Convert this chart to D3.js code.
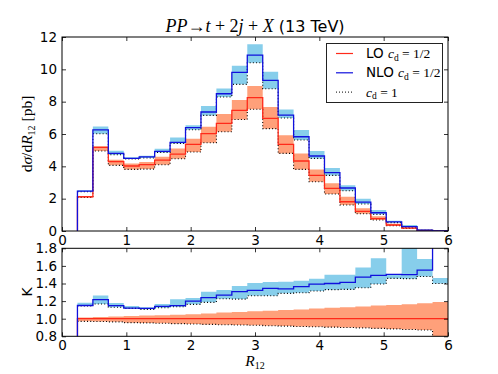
<!DOCTYPE html>
<html>
<head>
<meta charset="utf-8">
<script src="https://cdn.jsdelivr.net/npm/d3@7"></script>
<style>
  body { margin: 0; background: #fff; }
  svg { display: block; }
  .tick text { font-family: "DejaVu Sans", sans-serif; font-size: 13.5px; fill: #000; }
  .tick line { stroke: #000; stroke-width: 0.8; }
  .math { font-family: "Liberation Serif", "DejaVu Serif", serif; }
</style>
</head>
<body>
<svg id="chart" width="498" height="374"></svg>
<script>
// bin edges of R12 (first bin 0-0.24 is empty)
var edges = [0.24, 0.48, 0.72, 0.96, 1.2, 1.44, 1.68, 1.92, 2.16, 2.4, 2.64, 2.88, 3.12,
             3.36, 3.6, 3.84, 4.08, 4.32, 4.56, 4.8, 5.04, 5.28, 5.52, 5.76, 6.0];

// dsigma/dR12 [pb], cd = 1/2 (line), upper band edge, cd = 1 (dotted)
var nlo    = [2.47, 6.25, 4.8, 4.49, 4.58, 4.93, 5.48, 6.39, 7.36, 8.49, 9.81, 10.88,
              9.32, 7.17, 5.83, 4.64, 3.61, 2.66, 1.79, 1.13, 0.56, 0.27, 0.06, 0.01];
var nloUp  = [2.52, 6.47, 4.97, 4.56, 4.66, 5.08, 5.79, 6.54, 7.73, 8.82, 10.22, 11.55,
              9.85, 7.52, 6.25, 4.95, 3.9, 2.83, 2.0, 1.3, 0.64, 0.37, 0.1, 0.015];
var nloDot = [2.43, 6.02, 4.72, 4.45, 4.52, 4.86, 5.42, 6.26, 7.15, 8.29, 9.07, 10.41,
              8.8, 6.99, 5.63, 4.49, 3.44, 2.49, 1.67, 1.03, 0.52, 0.24, 0.05, 0.01];
var lo     = [2.12, 5.17, 4.29, 4.02, 4.1, 4.39, 4.76, 5.36, 6.02, 6.66, 7.46, 8.25,
              6.97, 5.36, 4.33, 3.44, 2.64, 1.81, 1.22, 0.76, 0.37, 0.18, 0.04, 0.005];
var loUp   = [2.16, 5.25, 4.4, 4.18, 4.27, 4.6, 5.1, 5.71, 6.45, 7.24, 8.1, 8.97,
              7.67, 5.92, 4.8, 3.81, 2.95, 2.12, 1.4, 0.92, 0.45, 0.22, 0.05, 0.007];
var loDot  = [2.07, 4.95, 4.06, 3.81, 3.83, 4.1, 4.47, 4.89, 5.46, 6.14, 6.9, 7.53,
              6.33, 4.8, 3.81, 3.05, 2.29, 1.61, 1.07, 0.68, 0.33, 0.16, 0.035, 0.004];

// K factor panel
var kNlo    = [1.15, 1.216, 1.148, 1.12, 1.117, 1.14, 1.148, 1.2, 1.239, 1.269, 1.307, 1.322,
               1.345, 1.34, 1.364, 1.394, 1.4, 1.413, 1.473, 1.492, 1.504, 1.5, 1.553, 2.5];
var kNloUp  = [1.18, 1.265, 1.178, 1.144, 1.13, 1.167, 1.22, 1.235, 1.307, 1.326, 1.371, 1.405,
               1.417, 1.42, 1.43, 1.455, 1.5, 1.5, 1.583, 1.686, 1.504, 2.0, 1.678, 1.463];
var kNloDot = [1.144, 1.167, 1.13, 1.117, 1.106, 1.125, 1.136, 1.163, 1.186, 1.227, 1.223, 1.26,
               1.26, 1.288, 1.295, 1.314, 1.33, 1.333, 1.352, 1.394, 1.458, 1.455, 1.48, 1.40];
var kLo     = [1, 1, 1, 1, 1, 1, 1, 1, 1, 1, 1, 1, 1, 1, 1, 1, 1, 1, 1, 1, 1, 1, 1, 1];
var kLoUp   = [1.015, 1.02, 1.025, 1.03, 1.035, 1.04, 1.045, 1.05, 1.06, 1.07, 1.075, 1.085,
               1.09, 1.1, 1.105, 1.115, 1.125, 1.13, 1.14, 1.15, 1.155, 1.165, 1.175, 1.19];
var kLoDot  = [0.97, 0.968, 0.964, 0.955, 0.952, 0.948, 0.944, 0.94, 0.935, 0.932, 0.928, 0.925,
               0.92, 0.916, 0.912, 0.908, 0.904, 0.9, 0.896, 0.89, 0.884, 0.878, 0.872, 0.78];

var xTicks = [0, 1, 2, 3, 4, 5, 6];
var yTicksTop = [0, 2, 4, 6, 8, 10, 12];
var yTicksBot = [0.8, 1.0, 1.2, 1.4, 1.6, 1.8];

var colRed = "#ff2a1a", colBlue = "#1010dd";
var colRedBand = "#ffa07a", colBlueBand = "#87ceeb";

var svg = d3.select("#chart");
var left = 62, right = 448;

var x = d3.scaleLinear().domain([0, 6]).range([left, right]);

// steps: a vertical rise at the first edge, then flat bins up to the last edge
function steps(vals, start) {
	var pts = [];
	if (start !== undefined) pts.push({x: edges[0], y: start});
	vals.forEach(function(v, i) { pts.push({x: edges[i], y: v}); });
	pts.push({x: edges[edges.length - 1], y: vals[vals.length - 1]});
	return pts;
}

function bandPts(lower, upper) {
	var pts = lower.map(function(v, i) { return {x: edges[i], y0: v, y1: upper[i]}; });
	var n = lower.length - 1;
	pts.push({x: edges[n + 1], y0: lower[n], y1: upper[n]});
	return pts;
}

function drawPanel(opt) {
	var y = d3.scaleLinear().domain(opt.domain).range([opt.bottom, opt.top]);
	var g = svg.append("g");

	// white background hides anything that spills in from above
	g.append("rect").attr("x", left).attr("y", opt.top)
		.attr("width", right - left).attr("height", opt.bottom - opt.top).attr("fill", "#fff");

	svg.append("clipPath").attr("id", opt.id)
		.append("rect").attr("x", left).attr("y", opt.top)
		.attr("width", right - left).attr("height", opt.bottom - opt.top);
	var plot = g.append("g").attr("clip-path", "url(#" + opt.id + ")");

	var area = d3.area().curve(d3.curveStepAfter)
		.x(function(d) { return x(d.x); })
		.y0(function(d) { return y(d.y0); })
		.y1(function(d) { return y(d.y1); });
	var line = d3.line().curve(d3.curveStepAfter)
		.x(function(d) { return x(d.x); })
		.y(function(d) { return y(d.y); });

	// bands
	plot.append("path").datum(bandPts(opt.nloDot, opt.nloUp)).attr("d", area).attr("fill", colBlueBand);
	plot.append("path").datum(bandPts(opt.loDot, opt.loUp)).attr("d", area).attr("fill", colRedBand);

	// cd = 1 dotted
	[opt.loDot, opt.nloDot].forEach(function(vals) {
		plot.append("path").datum(steps(vals)).attr("d", line)
			.attr("fill", "none").attr("stroke", "#000").attr("stroke-width", 1.1)
			.attr("stroke-dasharray", "1,2.2");
	});

	// cd = 1/2 lines
	plot.append("path").datum(steps(opt.lo, opt.domain[0] - 1)).attr("d", line)
		.attr("fill", "none").attr("stroke", colRed).attr("stroke-width", 1.3);
	plot.append("path").datum(steps(opt.nlo, opt.domain[0] - 1)).attr("d", line)
		.attr("fill", "none").attr("stroke", colBlue).attr("stroke-width", 1.3);

	// ticks on all four sides, pointing inward
	var h = opt.bottom - opt.top;
	g.append("g").attr("transform", "translate(0," + opt.bottom + ")")
		.call(d3.axisBottom(x).tickValues(xTicks).tickFormat(d3.format("d"))
			.tickSizeInner(-4).tickSizeOuter(0).tickPadding(4));
	g.append("g").attr("transform", "translate(0," + opt.top + ")")
		.call(d3.axisTop(x).tickValues(xTicks).tickFormat("").tickSizeInner(-4).tickSizeOuter(0));
	g.append("g").attr("transform", "translate(" + left + ",0)")
		.call(d3.axisLeft(y).tickValues(opt.yTicks).tickFormat(opt.fmt)
			.tickSizeInner(-4).tickSizeOuter(0).tickPadding(5));
	g.append("g").attr("transform", "translate(" + right + ",0)")
		.call(d3.axisRight(y).tickValues(opt.yTicks).tickFormat("").tickSizeInner(-4).tickSizeOuter(0));
	g.selectAll(".domain").remove();

	g.append("rect").attr("x", left).attr("y", opt.top)
		.attr("width", right - left).attr("height", h)
		.attr("fill", "none").attr("stroke", "#000").attr("stroke-width", 1);
}

// upper panel: differential cross section
drawPanel({id: "clipTop", top: 37, bottom: 231, domain: [0, 12], yTicks: yTicksTop,
	fmt: d3.format("d"), nlo: nlo, nloUp: nloUp, nloDot: nloDot, lo: lo, loUp: loUp, loDot: loDot});

// lower panel: K factor
drawPanel({id: "clipBot", top: 248.3, bottom: 336.3, domain: [0.8, 1.8], yTicks: yTicksBot,
	fmt: d3.format(".1f"), nlo: kNlo, nloUp: kNloUp, nloDot: kNloDot, lo: kLo, loUp: kLoUp, loDot: kLoDot});

// title
var title = svg.append("text").attr("x", 255).attr("y", 32).attr("text-anchor", "middle")
	.attr("font-size", 18);
title.append("tspan").attr("class", "math").attr("font-style", "italic").text("PP");
title.append("tspan").attr("class", "math").text("\u2192");
title.append("tspan").attr("class", "math").attr("font-style", "italic").text("t");
title.append("tspan").attr("class", "math").text(" + 2");
title.append("tspan").attr("class", "math").attr("font-style", "italic").text("j");
title.append("tspan").attr("class", "math").text(" + ");
title.append("tspan").attr("class", "math").attr("font-style", "italic").text("X");
title.append("tspan").attr("font-family", "DejaVu Sans, sans-serif").attr("font-size", 16).text(" (13 TeV)");

// y label, upper panel
var yl = svg.append("text").attr("class", "math")
	.attr("transform", "translate(32,134) rotate(-90)")
	.attr("text-anchor", "middle").attr("font-size", 15.5);
yl.append("tspan").text("d");
yl.append("tspan").attr("font-style", "italic").text("\u03c3");
yl.append("tspan").text("/d");
yl.append("tspan").attr("font-style", "italic").text("R");
yl.append("tspan").attr("font-size", 10).attr("dy", 3).text("12");
yl.append("tspan").attr("dy", -3).text(" [pb]");

// y label, lower panel
svg.append("text").attr("transform", "translate(32,292) rotate(-90)")
	.attr("text-anchor", "middle").attr("font-family", "DejaVu Sans, sans-serif")
	.attr("font-size", 14).text("K");

// x label
var xl = svg.append("text").attr("class", "math").attr("x", 255).attr("y", 366)
	.attr("text-anchor", "middle").attr("font-size", 15.5);
xl.append("tspan").attr("font-style", "italic").text("R");
xl.append("tspan").attr("font-size", 10).attr("dy", 3).text("12");

// legend
var leg = svg.append("g");
leg.append("rect").attr("x", 326.5).attr("y", 43.5).attr("width", 116).attr("height", 59)
	.attr("fill", "#fff").attr("stroke", "#222").attr("stroke-width", 1);
var entries = [
	{pre: "LO ", val: " = 1/2", color: colRed, dash: null},
	{pre: "NLO ", val: " = 1/2", color: colBlue, dash: null},
	{pre: "", val: " = 1", color: "#000", dash: "1,2"}
];
entries.forEach(function(e, i) {
	var yy = 53.5 + i * 19.3;
	leg.append("line").attr("x1", 336).attr("x2", 353).attr("y1", yy).attr("y2", yy)
		.attr("stroke", e.color).attr("stroke-width", e.dash ? 1 : 1.2)
		.attr("stroke-dasharray", e.dash);
	var t = leg.append("text").attr("x", 366).attr("y", yy + 4.5).attr("font-size", 13.5);
	if (e.pre) t.append("tspan").attr("font-family", "DejaVu Sans, sans-serif").text(e.pre);
	t.append("tspan").attr("class", "math").attr("font-style", "italic").text("c");
	t.append("tspan").attr("class", "math").attr("font-size", 9.5).attr("dy", 2.5).text("d");
	t.append("tspan").attr("class", "math").attr("dy", -2.5).text(e.val);
});
</script>
</body>
</html>
